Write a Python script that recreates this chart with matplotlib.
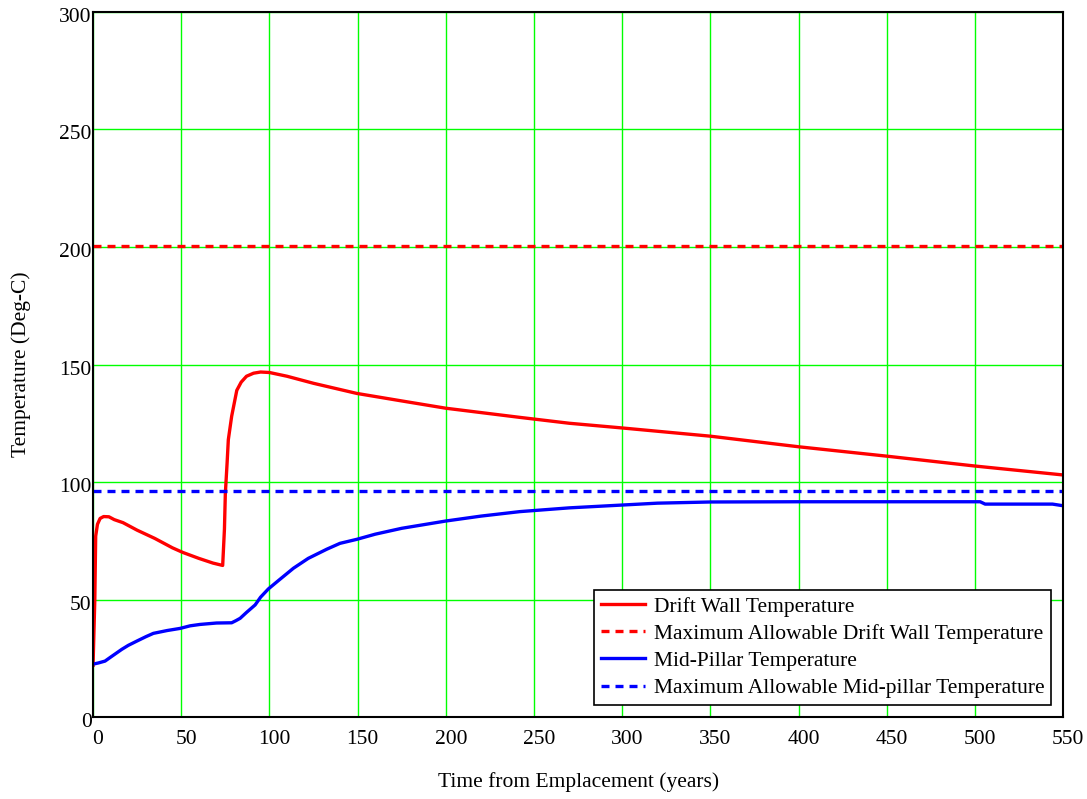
import numpy as np
import matplotlib as mpl
import matplotlib.pyplot as plt
from matplotlib.transforms import ScaledTranslation

plt.rc('font', family='Liberation Serif')

# Drift wall temperature vs. time (years, deg C)
wall_t = [0, 1, 1.5, 2.5, 4, 6, 9, 12, 17, 25, 35, 45, 51, 60, 68, 73.5,
          74.5, 75, 76, 76.7, 78.6, 81.5, 84, 87, 91, 95, 100, 110, 125,
          149.5, 175, 200, 242, 270, 300, 350, 400, 450, 500, 550]
wall_T = [22, 50, 77, 82, 84.5, 85.3, 85.2, 84, 82.7, 79.5, 76, 72, 70, 67.5,
          65.5, 64.5, 80, 95, 108, 118, 128, 139, 142.5, 145, 146.3, 146.8,
          146.6, 145, 142, 137.7, 134.5, 131.4, 127.5, 125, 123, 119.5, 115,
          111, 106.8, 103]

# Mid-pillar temperature
pillar_t = [0, 3, 6.8, 10, 16.3, 20, 24.8, 30, 34.2, 42, 49.3, 55, 60.7, 70,
            78.6, 81, 83.4, 87, 91.9, 95, 99.4, 105, 113.6, 122, 132.5, 140,
            149.5, 160, 175, 200, 220, 242, 270, 300, 320, 350, 400, 503,
            505.8, 544, 550]
pillar_T = [22.5, 23, 23.8, 25.5, 28.8, 30.5, 32.3, 34.2, 35.6, 36.8, 37.7,
            38.8, 39.4, 40, 40.1, 41, 42, 44.5, 47.7, 51, 54.5, 58, 63.3, 67.5,
            71.4, 73.9, 75.6, 77.8, 80.3, 83.4, 85.5, 87.4, 89, 90.2, 91, 91.5,
            91.6, 91.6, 90.6, 90.6, 89.9]

# allowable limits
wall_max = 200.5
pillar_max = 96.2

fig = plt.figure(figsize=(10.87, 7.99), dpi=100)
ax = fig.add_axes([0.0856, 0.1026, 0.8924, 0.8824])

green = '#00ff00'
ax.grid(True, color=green, linewidth=1.0)
ax.set_axisbelow(True)

dash = (0, (2.4, 1.8))
ax.plot(wall_t, wall_T, color='red', lw=2.4, label='Drift Wall Temperature')
ax.axhline(wall_max, color='red', lw=2.4, ls=dash,
           label='Maximum Allowable Drift Wall Temperature')
ax.plot(pillar_t, pillar_T, color='blue', lw=2.4, label='Mid-Pillar Temperature')
ax.axhline(pillar_max, color='blue', lw=2.4, ls=dash,
           label='Maximum Allowable Mid-pillar Temperature')

ax.set_xlim(0, 550)
ax.set_ylim(0, 300)
ax.set_xticks(np.arange(0, 551, 50))
ax.set_yticks(np.arange(0, 301, 50))
ax.tick_params(length=0, labelsize=15.5)
ax.tick_params(axis='y', pad=1)
ax.tick_params(axis='x', pad=9)
# nudge tick labels off their gridlines a little
shift = ScaledTranslation(5 / 100, 0, fig.dpi_scale_trans)
for lbl in ax.get_xticklabels():
    lbl.set_transform(lbl.get_transform() + shift)
for lbl in ax.get_yticklabels():
    lbl.set_transform(lbl.get_transform() + ScaledTranslation(0, -3 / 100, fig.dpi_scale_trans))
for s in ax.spines.values():
    s.set_linewidth(1.5)

ax.set_xlabel('Time from Emplacement (years)', fontsize=15.5, labelpad=17)
ax.set_ylabel('Temperature (Deg-C)', fontsize=15.5, labelpad=20)

leg = ax.legend(loc='upper right', bbox_to_anchor=(0.988, 0.18),
                borderaxespad=0, fancybox=False, edgecolor='black',
                fontsize=15.5, handlelength=2.05, framealpha=1,
                borderpad=0.3, labelspacing=0.33, handletextpad=0.45)
leg.get_frame().set_linewidth(1.2)

plt.savefig('out.png', dpi=100)
